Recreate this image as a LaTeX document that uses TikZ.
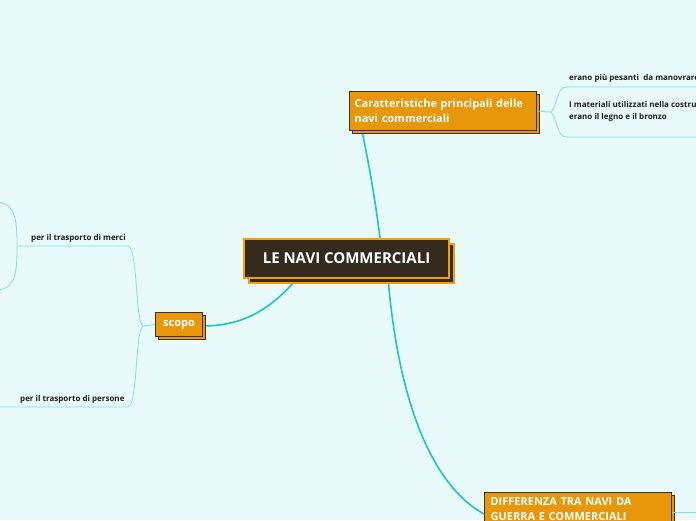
\documentclass[tikz,border=0pt]{standalone}
\usepackage{fontspec}
\setmainfont{Open Sans}
\usetikzlibrary{shadows}
\definecolor{bgc}{HTML}{E8FAFA}
\definecolor{tealthick}{HTML}{1FC5C0}
\definecolor{tealthin}{HTML}{86DEDC}
\definecolor{orangefill}{HTML}{E8960A}
\definecolor{orangeedge}{HTML}{F6A000}
\definecolor{darkfill}{HTML}{352A1E}
\definecolor{darkedge}{HTML}{3A3224}
\definecolor{smalltext}{HTML}{1E1E1E}
\tikzset{
  centralbox/.style={draw=orangeedge, line width=2pt, fill=darkfill, text=white,
    font=\bfseries\fontsize{15}{17}\selectfont, minimum width=205pt, minimum height=39pt,
    inner sep=0pt, anchor=north west,
    copy shadow={shadow xshift=5pt, shadow yshift=-5pt}},
  topicbox/.style={draw=darkedge, line width=1.2pt, fill=orangefill, text=white,
    font=\bfseries\fontsize{11}{15}\selectfont, align=left, inner sep=0pt, anchor=north west,
    copy shadow={shadow xshift=3pt, shadow yshift=-3pt}},
  leaftext/.style={text=smalltext, font=\bfseries\fontsize{8}{12}\selectfont, align=left,
    inner sep=0pt, anchor=base west},
  mainlink/.style={draw=tealthick, line width=1.6pt},
  sublink/.style={draw=tealthin, line width=0.8pt},
}
\begin{document}
\begin{tikzpicture}[x=1pt, y=-1pt]
\fill[bgc] (0,0) rectangle (696,520);
\clip (0,0) rectangle (696,520);

% connectors (behind nodes)
\coordinate (cTop) at (380,238);
\coordinate (cBL) at (293,283);
\coordinate (cBR) at (388,278);
\coordinate (carBot) at (362,131);
\coordinate (scR) at (202,326);
\coordinate (difL) at (484,514);

\draw[mainlink] (cTop) .. controls (374,190) and (366,150) .. (carBot);
\draw[mainlink] (cBL) .. controls (262,318) and (232,326) .. (scR);
\draw[mainlink] (cBR) .. controls (400,420) and (440,490) .. (difL);

% nodes
\node[centralbox] (central) at (243,238) {LE NAVI COMMERCIALI};
\node[topicbox, minimum width=187pt, minimum height=39pt, text width=187pt] (car) at (349,91)
  {\hspace*{5pt}\parbox[c]{178pt}{Caratteristiche principali delle\\navi commerciali}};
\node[topicbox, minimum width=47pt, minimum height=24pt, align=center] (scopo) at (155,312) {scopo};
\node[topicbox, minimum width=187pt, minimum height=50pt, text width=187pt] (dif) at (484,492)
  {\vspace*{3pt}\hspace*{6pt}\parbox[t]{178pt}{DIFFERENZA TRA NAVI DA\\GUERRA E COMMERCIALI}\vspace*{14pt}};

% leaf texts
\node[leaftext] (l1) at (569,80) {erano più pesanti~ da manovrare};
\node[leaftext] (l2) at (569,119) {I materiali utilizzati nella costruzione\\erano il legno e il bronzo};
\node[leaftext] (l3) at (31,240) {per il trasporto di merci};
\node[leaftext] (l4) at (20,401) {per il trasporto di persone};

% thin branches
\coordinate (jCar) at (550,112);
\coordinate (u1) at (566,87);
\coordinate (u2) at (566,137);
\coordinate (u1e) at (700,87);
\coordinate (u2e) at (700,137);
\draw[sublink] (car.east) -- (jCar);
\draw[sublink] (jCar) .. controls (557,110) and (556,87) .. (u1) -- (u1e);
\draw[sublink] (jCar) .. controls (557,114) and (556,137) .. (u2) -- (u2e);

\coordinate (jSc) at (143,326);
\coordinate (m1) at (128,246);
\coordinate (m1e) at (17,246);
\coordinate (p1) at (128,407);
\coordinate (p1e) at (-5,407);
\draw[sublink] (scopo.west) -- (jSc);
\draw[sublink] (jSc) .. controls (135,322) and (138,248) .. (m1) -- (m1e);
\draw[sublink] (jSc) .. controls (135,330) and (138,405) .. (p1) -- (p1e);

\coordinate (b1) at (-2,202);
\coordinate (b2) at (-2,290);
\draw[sublink] (b1) .. controls (16,204) and (17,222) .. (m1e) .. controls (17,272) and (16,288) .. (b2);

\coordinate (dE) at (700,512);
\draw[sublink] (dif.east |- 0,512) -- (dE);
\end{tikzpicture}
\end{document}
